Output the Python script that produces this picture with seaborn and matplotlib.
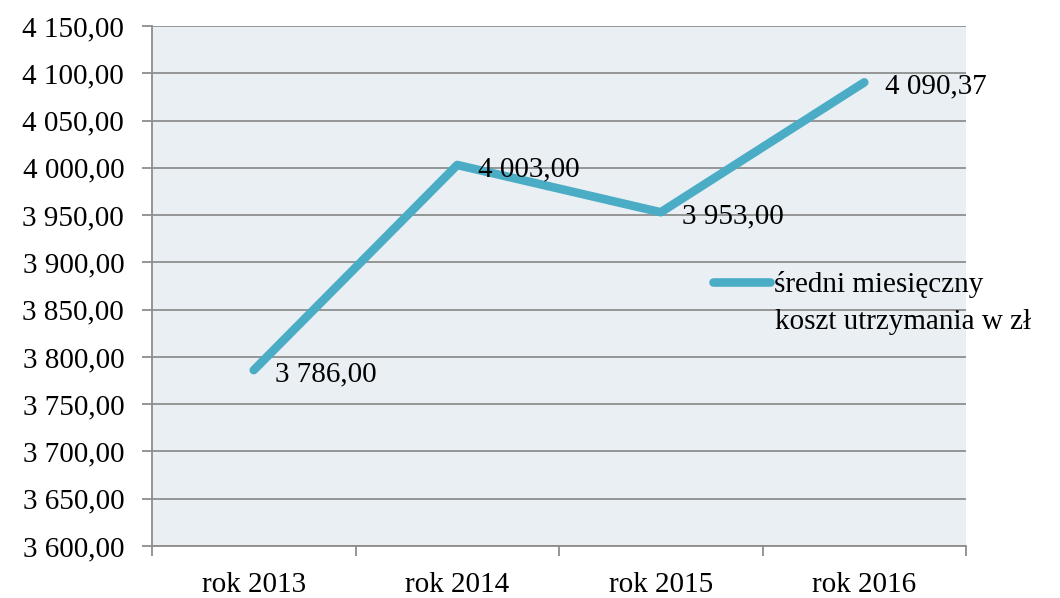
import matplotlib
matplotlib.use("Agg")
import matplotlib.pyplot as plt
import seaborn as sns
import pandas as pd
from matplotlib.ticker import FixedLocator

years = ["rok 2013", "rok 2014", "rok 2015", "rok 2016"]
values = [3786.00, 4003.00, 3953.00, 4090.37]
value_labels = ["3 786,00", "4 003,00", "3 953,00", "4 090,37"]
y_ticks = [3600, 3650, 3700, 3750, 3800, 3850, 3900, 3950, 4000, 4050, 4100, 4150]
y_tick_labels = ["3 600,00", "3 650,00", "3 700,00", "3 750,00", "3 800,00", "3 850,00",
                 "3 900,00", "3 950,00", "4 000,00", "4 050,00", "4 100,00", "4 150,00"]
legend_line1 = "średni miesięczny"
legend_line2 = "koszt utrzymania w zł"

sns.set_theme(style="white")
plt.rcParams['font.family'] = ['Liberation Serif', 'DejaVu Serif']
plt.rcParams['font.size'] = 21
plt.rcParams['text.color'] = 'black'

FS = 21

df = pd.DataFrame({"rok": years, "koszt": values})

fig = plt.figure(figsize=(10.6, 5.98), dpi=100)
ax = fig.add_axes([152/1060, 1-546/598, (966-152)/1060, (546-26)/598])
ax.set_facecolor("#E9EFF3")

color = "#4BACC6"
sns.lineplot(data=df, x="rok", y="koszt", ax=ax, color=color, linewidth=6.2,
             solid_capstyle="round", label=legend_line1, legend=False, zorder=3)

ax.set_xlim(-0.5, 3.5)
ax.set_ylim(3600, 4150)
ax.set_yticks(y_ticks)
ax.set_yticklabels(y_tick_labels)
ax.set_xticks(range(len(years)))
ax.set_xticklabels(years)
ax.xaxis.set_minor_locator(FixedLocator([-0.5, 0.5, 1.5, 2.5, 3.5]))
ax.set_xlabel("")
ax.set_ylabel("")

ax.yaxis.grid(True, color="#8E8E8E", linewidth=1.3)
ax.set_axisbelow(True)
for s in ["top", "right"]:
    ax.spines[s].set_visible(False)
for s in ["left", "bottom"]:
    ax.spines[s].set_color("#8E8E8E")
    ax.spines[s].set_linewidth(1.3)

ax.tick_params(axis="y", which="major", direction="out", length=7, width=1.3,
               color="#8E8E8E", pad=13, labelsize=FS, labelcolor="black", left=True)
ax.tick_params(axis="x", which="major", length=0, pad=19, labelsize=FS, labelcolor="black")
ax.tick_params(axis="x", which="minor", direction="out", length=7, width=1.3,
               color="#8E8E8E", bottom=True)

for i, (v, lab) in enumerate(zip(values, value_labels)):
    ax.annotate(lab, xy=(i, v), xytext=(15, -3), textcoords="offset points",
                ha="left", va="center", fontsize=FS, color="black", zorder=4)

handles, labels = ax.get_legend_handles_labels()
fig.legend(handles, labels, loc="center left",
           bbox_to_anchor=(713/1060, 1-285/598), frameon=False,
           borderpad=0, borderaxespad=0, handlelength=1.95, handletextpad=0.15,
           fontsize=FS, labelcolor="black")
fig.text(775/1060, 1-322/598, legend_line2, ha="left", va="center", fontsize=FS,
         color="black")

fig.savefig("out.png", dpi=100)
